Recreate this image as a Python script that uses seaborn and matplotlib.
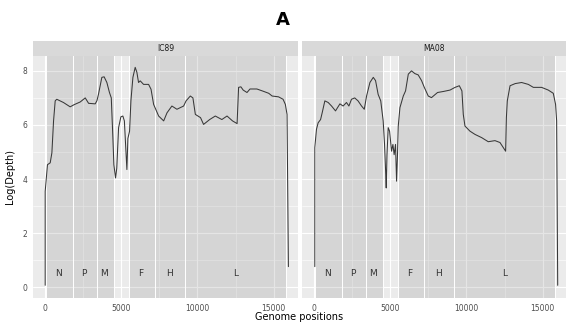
import numpy as np
import pandas as pd
import matplotlib
matplotlib.use("Agg")
import matplotlib.pyplot as plt
import seaborn as sns

# ==============================
# DATA
# ==============================
samples = ["IC89", "MA08"]

ic89_pos = [0, 0, 150, 330, 440, 550, 657, 760, 1200, 1640, 1900, 2300, 2630, 2850,
            3285, 3400, 3505, 3720, 3870, 4050, 4220, 4340, 4445, 4510, 4620, 4700,
            4820, 4970, 5100, 5200, 5290, 5365, 5430, 5540, 5630, 5760, 5910, 6020,
            6130, 6240, 6460, 6790, 6950, 7120, 7450, 7780, 8000, 8320, 8650, 9090,
            9250, 9530, 9700, 9860, 10200, 10400, 10800, 11170, 11600, 11940, 12300,
            12600, 12700, 12850, 13000, 13250, 13450, 13900, 14300, 14680, 14900,
            15320, 15620, 15770, 15880, 15920, 15970]
ic89_depth = [0.07, 3.54, 4.53, 4.6, 4.97, 6.15, 6.89, 6.95, 6.83, 6.67, 6.75, 6.85,
              7.0, 6.8, 6.78, 6.9, 7.15, 7.76, 7.78, 7.57, 7.2, 7.0, 5.53, 4.53, 4.04,
              4.4, 5.9, 6.3, 6.33, 6.15, 5.16, 4.35, 5.5, 5.77, 6.9, 7.76, 8.13, 7.95,
              7.57, 7.63, 7.5, 7.5, 7.32, 6.76, 6.33, 6.15, 6.45, 6.7, 6.58, 6.7,
              6.89, 7.07, 7.0, 6.39, 6.27, 6.02, 6.2, 6.33, 6.2, 6.33, 6.15,
              6.05, 7.39, 7.41, 7.29, 7.2, 7.33, 7.33, 7.25, 7.17, 7.07,
              7.04, 6.95, 6.76, 6.39, 3.92, 0.76]

ma08_pos = [40, 40, 150, 260, 420, 525, 700, 920, 1140, 1400, 1690, 1900, 2120, 2280,
            2450, 2660, 2880, 3110, 3290, 3440, 3660, 3880, 4030, 4200, 4370, 4530,
            4620, 4690, 4730, 4780, 4860, 4950, 5080, 5170, 5250, 5340, 5410, 5470,
            5520, 5630, 5850, 6000, 6180, 6390, 6610, 6830, 7050, 7230, 7490, 7700,
            8100, 8500, 8920, 9250, 9530, 9700, 9790, 9900, 10230, 10560, 11000,
            11430, 11870, 12200, 12420, 12570, 12620, 12680, 12860, 13200, 13620,
            14060, 14390, 14930, 15370, 15700, 15850, 15920, 15990]
ma08_depth = [0.76, 5.16, 5.84, 6.08, 6.2, 6.45, 6.89, 6.83, 6.7, 6.52, 6.78, 6.7,
              6.83, 6.7, 6.95, 7.0, 6.89, 6.7, 6.58, 7.07, 7.57, 7.76, 7.64, 7.13,
              6.89, 6.15, 5.28, 4.29, 3.67, 4.9, 5.9, 5.77, 5.03, 5.28, 4.9, 5.28,
              3.92, 4.9, 5.96, 6.64, 7.07, 7.26, 7.88, 8.0, 7.9, 7.85, 7.64, 7.39,
              7.07, 7.01, 7.2, 7.24, 7.29, 7.39, 7.45, 7.26, 6.39, 5.96, 5.77, 5.65,
              5.53, 5.38, 5.42, 5.35, 5.16, 5.03, 6.27, 6.89, 7.45, 7.53, 7.57,
              7.5, 7.39, 7.39, 7.29, 7.17, 6.76, 6.15, 0.07]

genes = ["N", "P", "M", "F", "H", "L"]
gene_start = [56, 1800, 3430, 5520, 7230, 9200]
gene_end = [1800, 3430, 4490, 7230, 9200, 15830]
label_pos = [850, 2550, 3860, 6270, 8170, 12480]
label_y = 0.5

df = pd.concat([
    pd.DataFrame({"sample": "IC89", "pos": ic89_pos, "depth": ic89_depth}),
    pd.DataFrame({"sample": "MA08", "pos": ma08_pos, "depth": ma08_depth}),
])

# ==============================
# STYLE
# ==============================
sns.set_theme(style="darkgrid", rc={
    "axes.facecolor": "#EBEBEB",
    "grid.color": "white",
    "axes.edgecolor": "#EBEBEB",
    "xtick.color": "#4D4D4D",
    "ytick.color": "#4D4D4D",
})
plt.rcParams["font.family"] = ["DejaVu Sans"]

fig = plt.figure(figsize=(5.66, 3.31), dpi=100)
W, H = 566, 331

panel_left = [33, 302]
panel_w = 265
top_px, bot_px = 56, 298
strip_top = 41

for i, s in enumerate(samples):
    x0 = panel_left[i] / W
    ax = fig.add_axes([x0, 1 - bot_px / H, panel_w / W, (bot_px - top_px) / H])
    ax.set_axisbelow(True)
    for g0, g1 in zip(gene_start, gene_end):
        ax.axvspan(g0, g1, ymin=-0.1, ymax=1.1, facecolor=(0.5, 0.5, 0.5, 0.2),
                   edgecolor="white", linewidth=0.7, zorder=1)
    sns.lineplot(data=df[df["sample"] == s], x="pos", y="depth", ax=ax,
                 estimator=None, sort=False, color="#383838", linewidth=0.75,
                 zorder=3)
    for g, lx in zip(genes, label_pos):
        ax.text(lx, label_y, g, ha="center", va="center", fontsize=6.5,
                color="#333333", zorder=4)

    ax.set_xlim(-800, 16600)
    ax.set_ylim(-0.4, 8.55)
    ax.set_xticks([0, 5000, 10000, 15000])
    ax.set_xticks([2500, 7500, 12500], minor=True)
    ax.set_yticks([0, 2, 4, 6, 8])
    ax.set_yticks([1, 3, 5, 7], minor=True)
    ax.grid(which="major", color="white", linewidth=0.8)
    ax.grid(which="minor", color="white", linewidth=0.4)
    ax.tick_params(axis="both", which="major", labelsize=5.5, length=2.5,
                   width=0.5, pad=1.5, colors="#4D4D4D")
    ax.tick_params(which="minor", length=0)
    ax.set_xlabel("")
    ax.set_ylabel("")
    if i > 0:
        ax.tick_params(axis="y", labelleft=False, length=0)
    for sp in ax.spines.values():
        sp.set_visible(False)

    # facet strip
    sax = fig.add_axes([x0, 1 - top_px / H, panel_w / W, (top_px - strip_top) / H])
    sax.set_facecolor("#D9D9D9")
    sax.set_xticks([])
    sax.set_yticks([])
    sax.grid(False)
    for sp in sax.spines.values():
        sp.set_visible(False)
    sax.text(0.5, 0.5, s, ha="center", va="center", fontsize=5.5,
             color="#1A1A1A", transform=sax.transAxes)

fig.text(0.5, 1 - 20 / H, "A", ha="center", va="center", fontsize=13,
         fontweight="bold", color="black")
fig.text(299.5 / W, 1 - 317 / H, "Genome positions", ha="center", va="center",
         fontsize=7, color="black")
fig.text(10 / W, 1 - 177 / H, "Log(Depth)", ha="center", va="center",
         fontsize=7, rotation=90, color="black")

plt.savefig("out.png", dpi=100)
plt.close()
